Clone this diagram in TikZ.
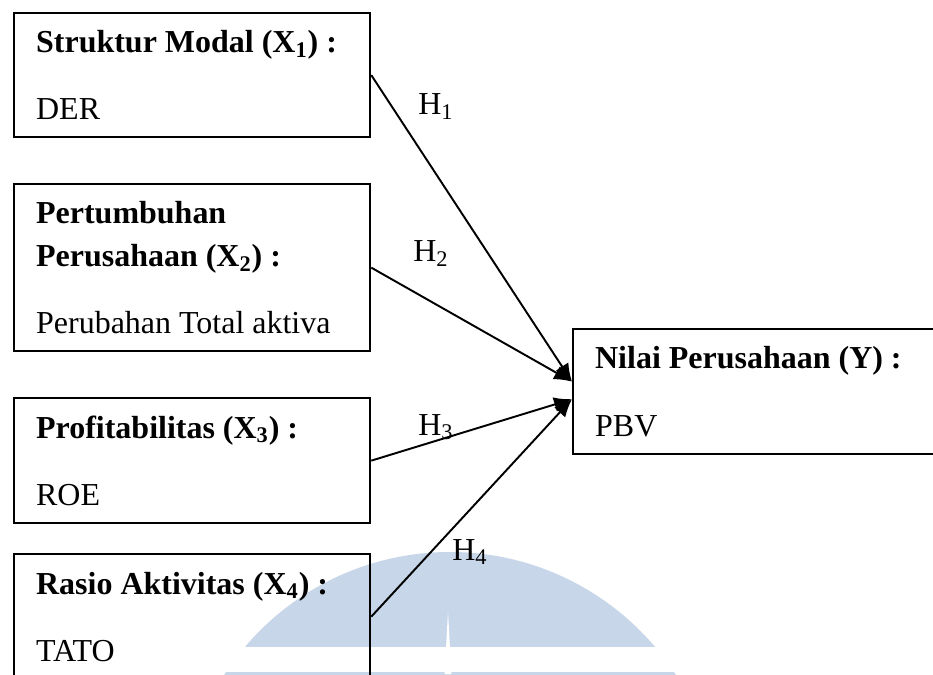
\documentclass[tikz,border=0pt]{standalone}
\usepackage{fontspec}
\setmainfont{Liberation Serif}
\usetikzlibrary{arrows.meta, positioning, calc}
\definecolor{wmblue}{RGB}{200,214,234}

\begin{document}
\begin{tikzpicture}[
    varbox/.style={draw, line width=1.3pt, anchor=north west, minimum width=7.12cm, minimum height=2.5cm,
                   text width=6.24cm, inner xsep=0.44cm, align=flush left, font=\fontsize{18.2pt}{24.5pt}\selectfont},
    hlabel/.style={anchor=base west, inner sep=0pt, font=\fontsize{18.2pt}{24.5pt}\selectfont},
    hyp/.style={-{Latex[length=0.36cm, width=0.3cm]}, line width=1.1pt}]
  \useasboundingbox (0,0) rectangle (18.66,13.48);

  % Watermark in the background
  \fill[wmblue] (9,-2.94) circle (5.38);
  \fill[white] (0,0.04) rectangle (18.66,0.54);
  \fill[white] (8.96,1.24) -- (9.03,0) -- (8.89,0) -- cycle;

  % Independent variables
  \node[varbox, minimum height=2.48cm] (modal) at (0.26,13.24)
    {\textbf{Struktur Modal (X\textsubscript{1}) :}\\[0.48cm]DER};
  \node[varbox, minimum height=3.34cm] (tumbuh) at (0.26,9.82)
    {\textbf{Pertumbuhan}\\\textbf{Perusahaan (X\textsubscript{2}) :}\\[0.48cm]Perubahan Total aktiva};
  \node[varbox] (profit) at (0.26,5.54)
    {\textbf{Profitabilitas (X\textsubscript{3}) :}\\[0.48cm]ROE};
  \node[varbox] (aktiv) at (0.26,2.42)
    {\textbf{Rasio Aktivitas (X\textsubscript{4}) :}\\[0.48cm]TATO};

  % Dependent variable
  \node[varbox, minimum width=8cm, text width=7.12cm] (nilai) at (11.44,6.92)
    {\textbf{Nilai Perusahaan (Y) :}\\[0.48cm]PBV};

  \coordinate (inA) at ($(nilai.west)+(0,0.2)$);
  \coordinate (inB) at ($(nilai.west)+(0,-0.15)$);

  % Hypotheses
  \draw[hyp] (modal.east)  -- (inA);
  \draw[hyp] (tumbuh.east) -- (inA);
  \draw[hyp] (profit.east) -- (inB);
  \draw[hyp] (aktiv.east)  -- (inB);

  \node[hlabel] (h1) at (8.36,11.18) {H\textsubscript{1}};
  \node[hlabel] (h2) at (8.26,8.24)  {H\textsubscript{2}};
  \node[hlabel] (h3) at (8.36,4.78)  {H\textsubscript{3}};
  \node[hlabel] (h4) at (9.04,2.28)  {H\textsubscript{4}};
\end{tikzpicture}
\end{document}
